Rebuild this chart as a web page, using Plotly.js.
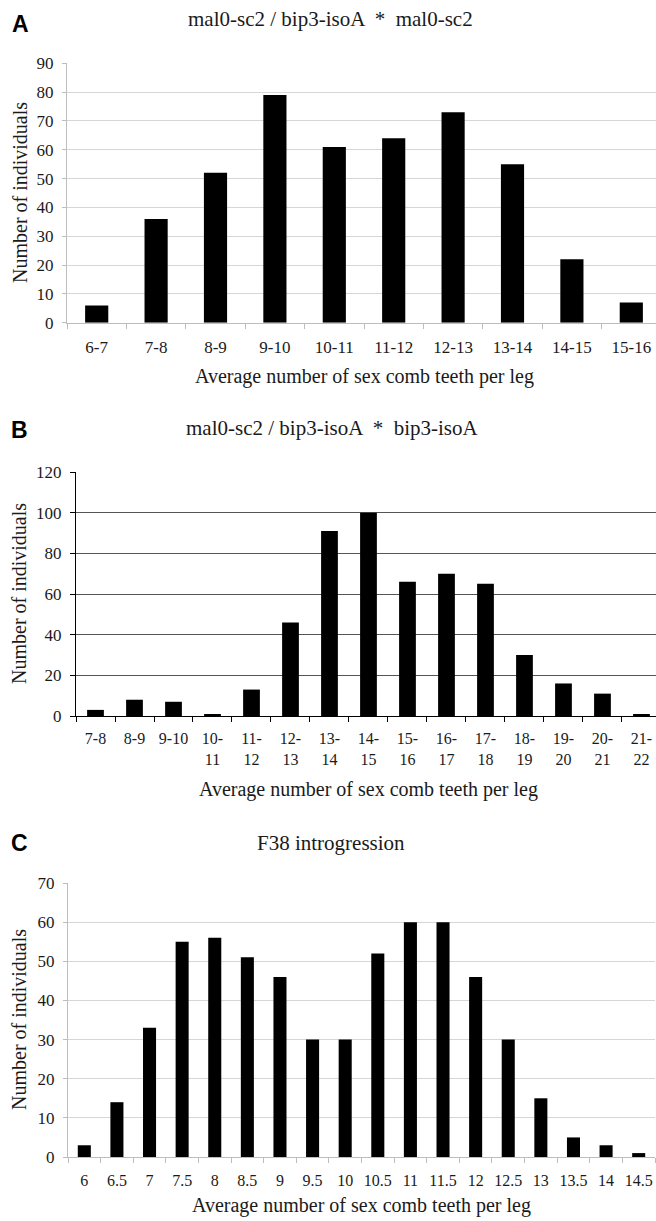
<!DOCTYPE html>
<html><head><meta charset="utf-8">
<script src="https://cdn.plot.ly/plotly-3.0.1.min.js"></script>
<style>html,body{margin:0;padding:0;background:#fff}</style>
</head><body>
<div id="chart" style="width:656px;height:1221px"></div>
<script>
// Panel A data
const catsA = ["6-7","7-8","8-9","9-10","10-11","11-12","12-13","13-14","14-15","15-16"];
const valsA = [6, 36, 52, 79, 61, 64, 73, 55, 22, 7];
// Panel B data
const catsB = ["7-8","8-9","9-10","10-11","11-12","12-13","13-14","14-15","15-16","16-17","17-18","18-19","19-20","20-21","21-22"];
const labelsB = ["7-8","8-9","9-10","10-<br>11","11-<br>12","12-<br>13","13-<br>14","14-<br>15","15-<br>16","16-<br>17","17-<br>18","18-<br>19","19-<br>20","20-<br>21","21-<br>22"];
const valsB = [3, 8, 7, 1, 13, 46, 91, 100, 66, 70, 65, 30, 16, 11, 1];
// Panel C data
const catsC = ["6","6.5","7","7.5","8","8.5","9","9.5","10","10.5","11","11.5","12","12.5","13","13.5","14","14.5"];
const valsC = [3, 14, 33, 55, 56, 51, 46, 30, 30, 52, 60, 60, 46, 30, 15, 5, 3, 1];

const titles = ["mal0-sc2 / bip3-isoA  *  mal0-sc2", "mal0-sc2 / bip3-isoA  *  bip3-isoA", "F38 introgression"];
const panelLetters = ["A","B","C"];
const xTitle = "Average number of sex comb teeth per leg";
const yTitle = "Number of individuals";

const W = 656, H = 1221;
const px = v => v / W;
const py = v => 1 - v / H;
const serif = "Liberation Serif, Times New Roman, serif";
const sans = "Liberation Sans, Arial, sans-serif";
const txt = '#1a1a1a';

const data = [
  {type:'bar', x:catsA, y:valsA, xaxis:'x', yaxis:'y', marker:{color:'#000'}, width:0.39, hoverinfo:'none'},
  {type:'bar', x:catsB, y:valsB, xaxis:'x2', yaxis:'y2', marker:{color:'#000'}, width:0.43, hoverinfo:'none'},
  {type:'bar', x:catsC, y:valsC, xaxis:'x3', yaxis:'y3', marker:{color:'#000'}, width:0.40, hoverinfo:'none'}
];

const lightX = (dom, anchor, nCat, rightCut, fs) => ({
  domain: dom, anchor: anchor, type:'category',
  range: [-0.5, nCat - 0.5 - rightCut],
  tickson:'boundaries', ticks:'outside', ticklen:5, tickcolor:'#bdbdbd', tickwidth:1,
  showline:true, linecolor:'#bdbdbd', linewidth:1, showgrid:false, zeroline:false,
  tickangle:0, tickfont:{family:serif, size:fs, color:txt}, ticklabelstandoff:9, fixedrange:true
});
const lightY = (dom, anchor, max, dt) => ({
  domain: dom, anchor: anchor, range:[0,max], dtick:dt, tick0:0,
  showgrid:true, gridcolor:'#d6d6d6', gridwidth:1,
  showline:true, linecolor:'#bdbdbd', linewidth:1, zeroline:false,
  ticks:'outside', ticklen:4, tickcolor:'#bdbdbd',
  tickfont:{family:serif, size:17, color:txt}, ticklabelstandoff:5, fixedrange:true
});

const ann = (text, x, y, size, extra) => Object.assign({
  text:text, x:px(x), y:py(y), xref:'paper', yref:'paper', showarrow:false,
  xanchor:'center', yanchor:'middle', font:{family:serif, size:size, color:txt}
}, extra || {});
const letter = (text, x, y) => ann(text, x, y, 23, {font:{family:sans, size:23, color:'#000', weight:'bold'}});

const rangeB = [-0.5, catsB.length - 0.5 - 5/39.2];
const boundariesB = catsB.map((c, i) => i - 0.5).concat([catsB.length - 0.5]);

const layout = {
  width:W, height:H, margin:{l:0,r:0,t:0,b:0},
  font:{family:serif, size:17, color:txt},
  paper_bgcolor:'#fff', plot_bgcolor:'#fff', showlegend:false,
  xaxis: lightX([px(67),1], 'y', catsA.length, 5/59.4, 17),
  yaxis: lightY([py(322.7), py(63.3)], 'x', 90, 10),
  xaxis2: {
    domain:[px(76),1], anchor:'y2', type:'category',
    range:rangeB,
    tickmode:'array', tickvals:catsB, ticktext:labelsB,
    tickson:'boundaries', ticks:'outside', ticklen:5, tickcolor:'#000', tickwidth:1,
    showline:true, linecolor:'#000', linewidth:1, showgrid:false, zeroline:false,
    tickangle:0, tickfont:{family:serif, size:16, color:txt}, ticklabelstandoff:8, fixedrange:true
  },
  // companion axis giving the inner half of panel B's crossing tick marks
  xaxis4: {
    domain:[px(76),1], anchor:'y2', overlaying:'x2', side:'bottom', type:'linear',
    range:rangeB, tickmode:'array', tickvals:boundariesB,
    ticks:'inside', ticklen:5, tickcolor:'#000', tickwidth:1,
    showticklabels:false, showline:false, showgrid:false, zeroline:false, fixedrange:true
  },
  yaxis2: {
    domain:[py(716), py(472)], anchor:'x2', range:[0,120], dtick:20, tick0:0,
    showgrid:true, gridcolor:'#555', gridwidth:1,
    showline:true, linecolor:'#000', linewidth:1, zeroline:false,
    ticks:'outside', ticklen:5, tickcolor:'#000',
    tickfont:{family:serif, size:17, color:txt}, ticklabelstandoff:5, fixedrange:true
  },
  xaxis3: lightX([px(68),px(655)], 'y3', catsC.length, 0, 16),
  yaxis3: lightY([py(1157), py(883)], 'x3', 70, 10),
  annotations: [
    letter(panelLetters[0], 20, 24),
    letter(panelLetters[1], 19, 430),
    letter(panelLetters[2], 19, 843),
    ann(titles[0], 331, 19, 21),
    ann(titles[1], 332, 428, 21),
    ann(titles[2], 331, 843, 21),
    ann(xTitle, 364, 376, 20),
    ann(xTitle, 368, 789, 20),
    ann(xTitle, 361, 1205, 20),
    ann(yTitle, 20, 193, 20, {textangle:-90}),
    ann(yTitle, 19, 594, 20, {textangle:-90}),
    ann(yTitle, 19, 1020, 20, {textangle:-90})
  ]
};

Plotly.newPlot('chart', data, layout, {staticPlot:true, displayModeBar:false});
</script>
</body></html>
